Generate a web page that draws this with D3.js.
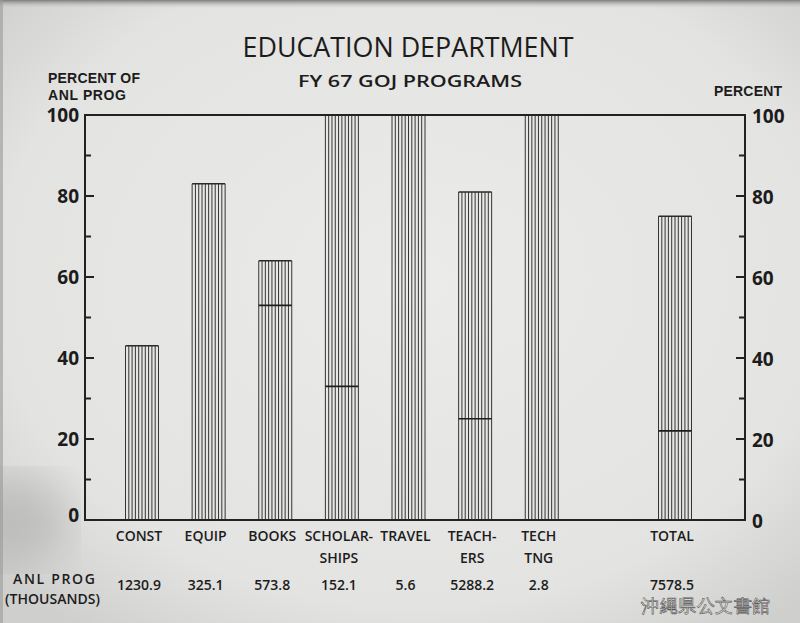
<!DOCTYPE html>
<html lang="en">
<head>
  <meta charset="utf-8">
  <script src="https://d3js.org/d3.v7.min.js"></script>
  <style>
    html, body { margin: 0; padding: 0; background: #e4e4e2; }
    svg { display: block; }
    text { font-family: 'Open Sans', 'Liberation Sans', sans-serif; fill: #1c1c1c; }
    .tick-label { font-size: 19px; font-weight: 700; }
    .cat-label { font-size: 14px; font-weight: 600; }
    .side-label { font-family: 'Liberation Sans', sans-serif; font-size: 14px; font-weight: 700; }
    .frame { fill: none; stroke: #222; stroke-width: 2; }
    .stripe { stroke: #353535; stroke-width: 1; }
  </style>
</head>
<body>
  <svg id="chart" width="800" height="623"></svg>
  <script>
    // values
    const categories = ["CONST", "EQUIP", "BOOKS", "SCHOLARSHIPS", "TRAVEL", "TEACHERS", "TECH TNG", "TOTAL"];
    const labelLines = [["CONST"], ["EQUIP"], ["BOOKS"], ["SCHOLAR-", "SHIPS"], ["TRAVEL"], ["TEACH-", "ERS"], ["TECH", "TNG"], ["TOTAL"]];
    const percentAnl = [43, 83, 64, 100, 100, 81, 100, 75];
    const percentInner = [null, null, 53, 33, null, 25, null, 22];
    const anlProg = ["1230.9", "325.1", "573.8", "152.1", "5.6", "5288.2", "2.8", "7578.5"];
    const majorTicks = [0, 20, 40, 60, 80, 100];
    const minorTicks = [10, 30, 50, 70, 90];

    const W = 800, H = 623;
    const plot = {left: 85, right: 745, top: 115, bottom: 520};
    const svg = d3.select("#chart");

    // photo paper background
    const defs = svg.append("defs");
    const vign = defs.append("radialGradient").attr("id", "vign")
      .attr("cx", "52%").attr("cy", "45%").attr("r", "70%");
    vign.append("stop").attr("offset", "0%").attr("stop-color", "#ebebe9");
    vign.append("stop").attr("offset", "75%").attr("stop-color", "#e3e3e1");
    vign.append("stop").attr("offset", "100%").attr("stop-color", "#cfcfcd");
    const topEdge = defs.append("linearGradient").attr("id", "topEdge")
      .attr("x1", 0).attr("y1", 0).attr("x2", 0).attr("y2", 1);
    topEdge.append("stop").attr("offset", "0%").attr("stop-color", "#7d7d7b");
    topEdge.append("stop").attr("offset", "100%").attr("stop-color", "#e0e0de").attr("stop-opacity", 0);
    defs.append("filter").attr("id", "blur")
      .append("feGaussianBlur").attr("stdDeviation", 22);

    svg.append("rect").attr("width", W).attr("height", H).attr("fill", "url(#vign)");
    svg.append("rect").attr("width", W).attr("height", 9).attr("fill", "url(#topEdge)");
    svg.append("ellipse").attr("cx", 15).attr("cy", 520).attr("rx", 55).attr("ry", 45)
      .attr("fill", "#a9a9a7").attr("opacity", 0.55).attr("filter", "url(#blur)");
    svg.append("rect").attr("x", 0).attr("y", 0).attr("width", 3).attr("height", H)
      .attr("fill", "#9a9a98").attr("opacity", 0.6);

    const slots = categories.slice(0, -1).concat(["_gap", categories[categories.length - 1]]);
    const x = d3.scalePoint().domain(slots).range([142, 675]);
    const y = d3.scaleLinear().domain([0, 100]).range([plot.bottom, plot.top]);
    const barW = 33, nStripes = 11;

    const bars = categories.map((c, i) => ({cat: c, value: percentAnl[i], inner: percentInner[i]}));

    // bars: vertical hatching
    const g = svg.append("g");
    bars.forEach(d => {
      const x0 = x(d.cat) - barW / 2;
      const bg = g.append("g");
      bg.selectAll("line")
        .data(d3.range(nStripes))
        .join("line")
        .attr("class", "stripe")
        .attr("x1", k => x0 + k * barW / (nStripes - 1))
        .attr("x2", k => x0 + k * barW / (nStripes - 1))
        .attr("y1", y(d.value))
        .attr("y2", y(0));
      bg.append("line")
        .attr("x1", x0).attr("x2", x0 + barW)
        .attr("y1", y(d.value)).attr("y2", y(d.value))
        .attr("stroke", "#2a2a2a").attr("stroke-width", 1.5);
      if (d.inner != null) {
        bg.append("line")
          .attr("x1", x0).attr("x2", x0 + barW)
          .attr("y1", y(d.inner)).attr("y2", y(d.inner))
          .attr("stroke", "#1e1e1e").attr("stroke-width", 1.6);
      }
    });

    // frame
    svg.append("rect").attr("class", "frame")
      .attr("x", plot.left).attr("y", plot.top)
      .attr("width", plot.right - plot.left).attr("height", plot.bottom - plot.top);

    // ticks, inside the frame on both sides
    const tickG = svg.append("g").attr("stroke", "#222").attr("stroke-width", 2);
    [[plot.left, 1], [plot.right, -1]].forEach(([ax, dir]) => {
      tickG.append("g").selectAll("line").data(majorTicks.slice(1, -1)).join("line")
        .attr("x1", ax).attr("x2", ax + dir * 9)
        .attr("y1", d => y(d)).attr("y2", d => y(d));
      tickG.append("g").selectAll("line").data(minorTicks).join("line")
        .attr("x1", ax).attr("x2", ax + dir * 6)
        .attr("y1", d => y(d)).attr("y2", d => y(d));
    });

    svg.append("g").selectAll("text").data(majorTicks).join("text")
      .attr("class", "tick-label")
      .attr("x", plot.left - 6)
      .attr("y", d => y(d) + (d === 0 ? 2 : 7))
      .attr("text-anchor", "end")
      .text(d => d);
    svg.append("g").selectAll("text").data(majorTicks).join("text")
      .attr("class", "tick-label")
      .attr("x", plot.right + 7)
      .attr("y", d => y(d) + 8)
      .attr("text-anchor", "start")
      .text(d => d);

    // titles
    svg.append("text").attr("x", 408).attr("y", 57)
      .attr("text-anchor", "middle").attr("font-size", 27)
      .attr("textLength", 331).attr("lengthAdjust", "spacingAndGlyphs")
      .text("EDUCATION DEPARTMENT");
    svg.append("text").attr("x", 410).attr("y", 87)
      .attr("text-anchor", "middle").attr("font-size", 17).attr("font-weight", 600)
      .attr("textLength", 224).attr("lengthAdjust", "spacingAndGlyphs")
      .text("FY 67  GOJ  PROGRAMS");

    svg.append("text").attr("class", "side-label").attr("x", 48).attr("y", 83)
      .attr("textLength", 92).text("PERCENT OF");
    svg.append("text").attr("class", "side-label").attr("x", 48).attr("y", 100)
      .attr("textLength", 78).text("ANL  PROG");
    svg.append("text").attr("class", "side-label").attr("x", 714).attr("y", 96)
      .attr("textLength", 68).text("PERCENT");

    // category labels and amounts
    const labG = svg.append("g");
    categories.forEach((c, i) => {
      labelLines[i].forEach((ln, j) => {
        labG.append("text").attr("class", "cat-label")
          .attr("x", x(c) - 3).attr("y", 541 + j * 22)
          .attr("text-anchor", "middle")
          .text(ln);
      });
      labG.append("text").attr("class", "cat-label")
        .attr("x", x(c) - 3).attr("y", 590)
        .attr("text-anchor", "middle")
        .text(anlProg[i]);
    });
    svg.append("text").attr("class", "cat-label").attr("x", 13).attr("y", 584)
      .attr("textLength", 82).text("ANL  PROG");
    svg.append("text").attr("class", "cat-label").attr("x", 5).attr("y", 604)
      .attr("textLength", 95).text("(THOUSANDS)");

    // archive stamp
    svg.append("text").attr("x", 641).attr("y", 612)
      .attr("font-family", "'Noto Sans CJK JP', sans-serif")
      .attr("font-size", 17.5)
      .attr("textLength", 129)
      .style("fill", "#f4f4f2").attr("stroke", "#555").attr("stroke-width", 0.6)
      .text("沖縄県公文書館");
  </script>
</body>
</html>
